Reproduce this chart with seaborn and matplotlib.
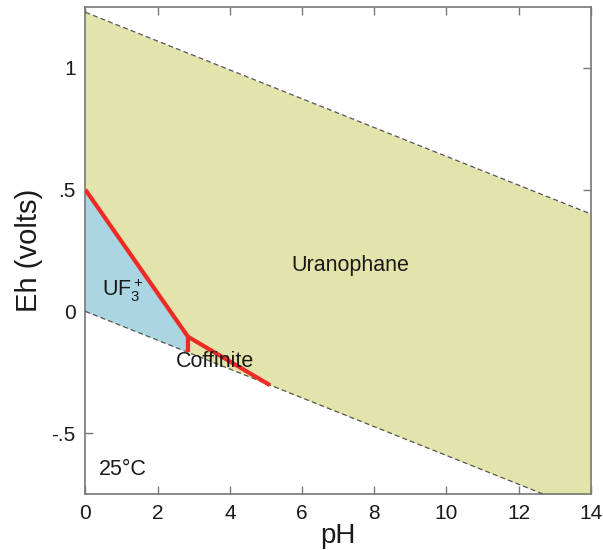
import numpy as np
import matplotlib
matplotlib.use("Agg")
import matplotlib.pyplot as plt
import seaborn as sns

# pH-Eh boundaries
ph_range = [0, 14]
o2_line_eh = [1.229, 0.400]        # upper water stability limit at pH 0 and 14
h2_line_eh = [0.000, -0.829]       # lower water stability limit at pH 0 and 14

# red phase boundaries
uf3_boundary_ph = [0.0, 2.84]
uf3_boundary_eh = [0.50, -0.104]
vert_boundary_ph = [2.84, 2.84]
vert_boundary_eh = [-0.104, -0.168]
coff_boundary_ph = [2.84, 5.11]
coff_boundary_eh = [-0.104, -0.303]

labels = ["Uranophane", "UF$_3^+$", "Coffinite", "25°C"]
label_ph = [7.35, 1.05, 3.6, 1.05]
label_eh = [0.19, 0.085, -0.205, -0.65]

sns.set_theme(style="white")
plt.rcParams["font.family"] = ["Liberation Sans", "DejaVu Sans"]
plt.rcParams["mathtext.fontset"] = "custom"
plt.rcParams["mathtext.rm"] = "Liberation Sans"

fig = plt.figure(figsize=(6.03, 5.5), dpi=100)
ax = fig.add_axes([0.1416, 0.102, 0.8384, 0.885])

yellow = "#e3e4ab"
blue = "#aad6e3"
red = "#ee2a24"
gray = "#555555"

# yellow field: between the water lines
ax.fill_between(ph_range, h2_line_eh, o2_line_eh, color=yellow, lw=0, zorder=1)
# blue UF3+ field
blue_x = [uf3_boundary_ph[0], uf3_boundary_ph[1], vert_boundary_ph[1], 0.0]
blue_y = [uf3_boundary_eh[0], uf3_boundary_eh[1], vert_boundary_eh[1], h2_line_eh[0]]
ax.fill(blue_x, blue_y, color=blue, lw=0, zorder=2)

# water lines
sns.lineplot(x=ph_range, y=o2_line_eh, ax=ax, color=gray, lw=0.9, linestyle=(0, (4, 2.5)), zorder=3)
sns.lineplot(x=ph_range, y=h2_line_eh, ax=ax, color=gray, lw=0.9, linestyle=(0, (4, 2.5)), zorder=3)

# red boundaries
for xs, ys in [(uf3_boundary_ph, uf3_boundary_eh),
               (vert_boundary_ph, vert_boundary_eh),
               (coff_boundary_ph, coff_boundary_eh)]:
    ax.plot(xs, ys, color=red, lw=3, solid_capstyle="butt", zorder=4)

for t, x, y in zip(labels, label_ph, label_eh):
    ax.text(x, y, t, fontsize=15.5, color="#1a1a1a", ha="center", va="center", zorder=5)

ax.set_xlim(0, 14)
ax.set_ylim(-0.75, 1.25)
ax.set_xticks([0, 2, 4, 6, 8, 10, 12, 14])
ax.set_yticks([-0.5, 0, 0.5, 1])
ax.set_yticklabels(["-.5", "0", ".5", "1"])
ax.tick_params(direction="in", length=6, width=1, color="#777777",
               labelsize=15, top=True, right=True, labelcolor="#1a1a1a",
               bottom=True, left=True, pad=7)
for s in ax.spines.values():
    s.set_color("#777777")
    s.set_linewidth(1.2)
ax.set_xlabel("pH", fontsize=20, color="#1a1a1a", labelpad=0)
ax.set_ylabel("Eh (volts)", fontsize=21, color="#1a1a1a", labelpad=6)

fig.savefig("out.png", dpi=100)
